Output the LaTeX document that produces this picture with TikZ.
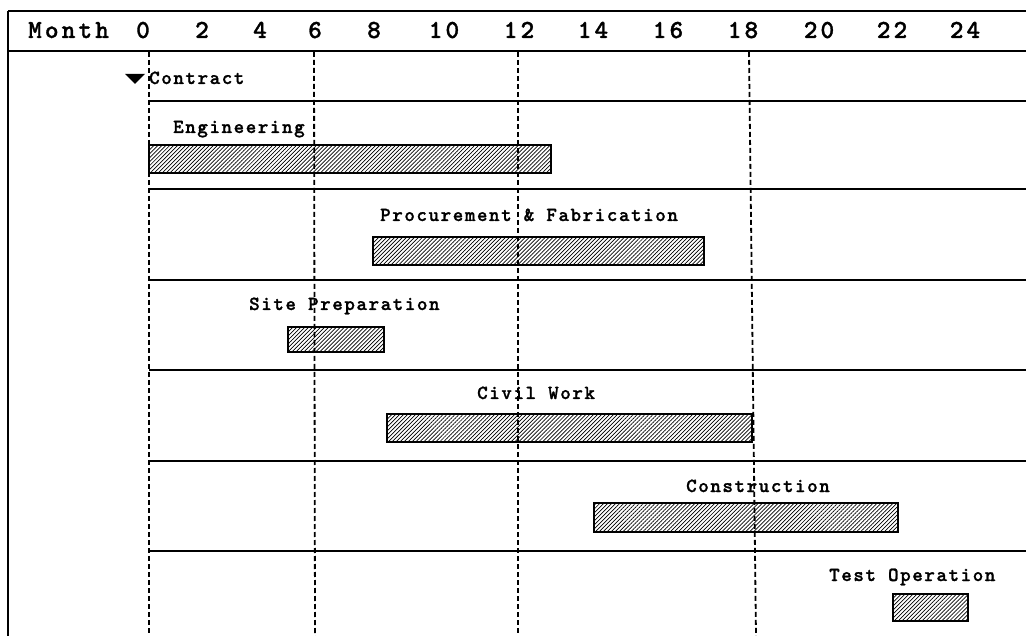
\documentclass[tikz,border=0pt]{standalone}
\usepackage{fontspec}
\usetikzlibrary{patterns.meta}
\newfontfamily\labfont{lmmonolt10-bold}[Extension=.otf, LetterSpace=8, FakeBold=1.2]
\newfontfamily\headfont{lmmonolt10-bold}[Extension=.otf, LetterSpace=12, FakeBold=1.2]
\tikzset{
  grid line/.style={line width=1.5pt, black},
  head line/.style={line width=2pt, black},
  month line/.style={line width=1.8pt, black, dash pattern=on 5pt off 3pt},
  hatchbar/.style={draw=black, line width=1.4pt,
    pattern={Lines[angle=45,distance=2.8pt,line width=0.7pt]}},
  tasklabel/.style={anchor=base west, inner sep=0pt, font=\labfont\fontsize{20}{20}\selectfont},
  headlabel/.style={anchor=base, inner sep=0pt, font=\headfont\fontsize{26}{26}\selectfont},
}
\begin{document}
\begin{tikzpicture}[x=1pt, y=-1pt]
\useasboundingbox (0,0) rectangle (1026,636);
\fill[white] (0,0) rectangle (1026,636);

% frame and header
\coordinate (tl) at (8,11);
\coordinate (tr) at (1026,11);
\coordinate (hl) at (8,51);
\coordinate (hr) at (1026,51);
\coordinate (bl) at (8,636);
\draw[head line] (tl) -- (tr);
\draw[head line] (hl) -- (hr);
\draw[line width=2.5pt] (tl) -- (bl);

% header labels
\node[headlabel, anchor=base west] (month) at (28,38) {Month};
\foreach \m/\x in {0/142,2/201,4/259,6/314,8/373,10/443,12/518,14/592,16/667,18/742,20/818,22/891,24/964}{
  \node[headlabel] (h\m) at (\x+1,38) {\m};
}

% row separators
\foreach \y/\n in {101/a,189/b,280/c,370/d,461/e,551/f}{
  \coordinate (s\n l) at (149,\y);
  \coordinate (s\n r) at (1026,\y);
  \draw[grid line] (s\n l) -- (s\n r);
}

% month dashed lines
\coordinate (m0t) at (149,52);  \coordinate (m0b) at (149,636);
\coordinate (m6t) at (314,52);  \coordinate (m6b) at (315,636);
\coordinate (m12t) at (518,52); \coordinate (m12b) at (518,636);
\coordinate (m18t) at (749,52); \coordinate (m18b) at (756,636);
\draw[month line] (m0t) -- (m0b);
\draw[month line] (m6t) -- (m6b);
\draw[month line] (m12t) -- (m12b);
\draw[month line] (m18t) -- (m18b);

% contract marker
\fill[black] (125,74) -- (145,74) -- (135,84) -- cycle;
\node[tasklabel] (contract) at (149,84) {Contract};

% bars
\path[hatchbar] (149,145) rectangle (551,173);
\path[hatchbar] (373,237) rectangle (704,265);
\path[hatchbar] (288,327) rectangle (384,352);
\path[hatchbar] (387,414) rectangle (752,442);
\path[hatchbar] (594,503) rectangle (898,532);
\path[hatchbar] (893,594) rectangle (968,621);

% labels
\node[tasklabel] (eng) at (173,133) {Engineering};
\node[tasklabel] (proc) at (380,221) {Procurement \& Fabrication};
\node[tasklabel] (site) at (249,310) {Site Preparation};
\node[tasklabel] (civil) at (477,399) {Civil Work};
\node[tasklabel] (cons) at (686,492) {Construction};
\node[tasklabel] (test) at (829,581) {Test Operation};
\end{tikzpicture}
\end{document}
